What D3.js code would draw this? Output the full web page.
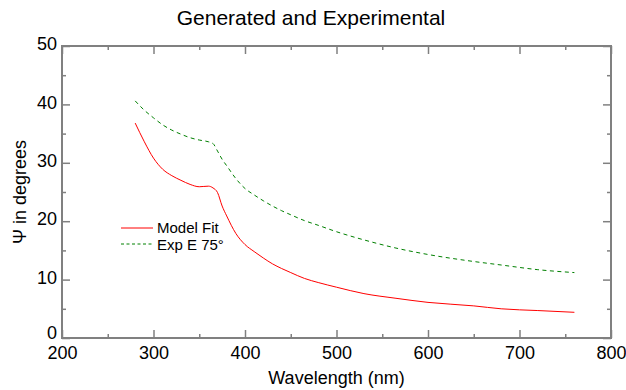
<!DOCTYPE html>
<html>
<head>
<meta charset="utf-8">
<script src="https://cdn.jsdelivr.net/npm/d3@7"></script>
<style>
  body { margin: 0; background: white; }
  text { font-family: "Liberation Sans", Arial, sans-serif; fill: black; }
</style>
</head>
<body>
<div id="chart"></div>
<script>
// wavelength (nm)
const wavelengths = [280, 290, 300, 310, 320, 330, 340, 350, 360, 365, 370, 375, 380, 390, 400,
    410, 420, 430, 440, 450, 465, 480, 500, 530, 565, 600, 650, 680, 720, 760];

// Model Fit (red)
const modelFit = [36.8, 33.6, 30.8, 28.9, 27.8, 27.0, 26.3, 25.9, 26.0, 25.7, 24.9, 22.6, 20.9, 17.9, 16.0,
    14.8, 13.7, 12.7, 11.9, 11.2, 10.2, 9.5, 8.7, 7.6, 6.8, 6.1, 5.5, 5.0, 4.7, 4.4];

// Exp E 75 (green dashed)
const expE75 = [40.6, 39.0, 37.7, 36.5, 35.6, 34.9, 34.3, 33.9, 33.6, 33.3, 32.0, 30.6, 29.5, 27.3, 25.6,
    24.5, 23.5, 22.6, 21.8, 21.1, 20.1, 19.3, 18.2, 16.8, 15.4, 14.3, 13.1, 12.5, 11.7, 11.2];

const xMajor = [200, 300, 400, 500, 600, 700, 800];
const xMinor = [250, 350, 450, 550, 650, 750];
const yMajor = [0, 10, 20, 30, 40, 50];
const yMinor = [5, 15, 25, 35, 45];

const seriesNames = ["Model Fit", "Exp E 75°"];

const width = 626;
const height = 390;
const margin = { top: 46, right: 15, bottom: 52, left: 62 };

const svg = d3.select("#chart")
    .append("svg")
    .attr("width", width)
    .attr("height", height);

const xScale = d3.scaleLinear()
    .domain([200, 800])
    .range([margin.left, width - margin.right]);

const yScale = d3.scaleLinear()
    .domain([0, 50])
    .range([height - margin.bottom, margin.top]);

const axisColor = "#808080";

//helper to style an axis group
function styleAxis(g) {
    g.select(".domain").remove();
    g.selectAll(".tick line").attr("stroke", axisColor).attr("stroke-width", 1.5);
    g.selectAll("text")
        .style("font-size", "18px")
        .style("font-family", "'Liberation Sans', Arial, sans-serif")
        .attr("fill", "black");
}

//bottom axis, ticks pointing inward
svg.append("g")
    .attr("transform", "translate(0," + yScale(0) + ")")
    .call(d3.axisBottom(xScale).tickValues(xMajor).tickSize(-8).tickPadding(8))
    .call(styleAxis);
svg.append("g")
    .attr("transform", "translate(0," + yScale(0) + ")")
    .call(d3.axisBottom(xScale).tickValues(xMinor).tickSize(-4).tickFormat(""))
    .call(styleAxis);

//top axis, no labels
svg.append("g")
    .attr("transform", "translate(0," + yScale(50) + ")")
    .call(d3.axisTop(xScale).tickValues(xMajor).tickSize(-8).tickFormat(""))
    .call(styleAxis);
svg.append("g")
    .attr("transform", "translate(0," + yScale(50) + ")")
    .call(d3.axisTop(xScale).tickValues(xMinor).tickSize(-4).tickFormat(""))
    .call(styleAxis);

//left axis, labels sit slightly above the tick, 0 sits on the axis
svg.append("g")
    .attr("transform", "translate(" + xScale(200) + ",0)")
    .call(d3.axisLeft(yScale).tickValues(yMajor).tickSize(-8).tickPadding(5))
    .call(styleAxis)
    .selectAll(".tick text")
    .attr("dy", function(d) { return d === 0 ? "0em" : "0.21em"; });
svg.append("g")
    .attr("transform", "translate(" + xScale(200) + ",0)")
    .call(d3.axisLeft(yScale).tickValues(yMinor).tickSize(-4).tickFormat(""))
    .call(styleAxis);

//right axis
svg.append("g")
    .attr("transform", "translate(" + xScale(800) + ",0)")
    .call(d3.axisRight(yScale).tickValues(yMajor).tickSize(-8).tickFormat(""))
    .call(styleAxis);
svg.append("g")
    .attr("transform", "translate(" + xScale(800) + ",0)")
    .call(d3.axisRight(yScale).tickValues(yMinor).tickSize(-4).tickFormat(""))
    .call(styleAxis);

//frame
svg.append("rect")
    .attr("x", xScale(200))
    .attr("y", yScale(50))
    .attr("width", xScale(800) - xScale(200))
    .attr("height", yScale(0) - yScale(50))
    .attr("fill", "none")
    .attr("stroke", axisColor)
    .attr("stroke-width", 2);

//lines
const line = d3.line()
    .x(function(d) { return xScale(d[0]); })
    .y(function(d) { return yScale(d[1]); })
    .curve(d3.curveMonotoneX);

svg.append("path")
    .datum(wavelengths.map(function(w, i) { return [w, modelFit[i]]; }))
    .attr("fill", "none")
    .attr("stroke", "#ff0000")
    .attr("stroke-width", 1)
    .attr("d", line);

svg.append("path")
    .datum(wavelengths.map(function(w, i) { return [w, expE75[i]]; }))
    .attr("fill", "none")
    .attr("stroke", "#008000")
    .attr("stroke-width", 1)
    .attr("stroke-dasharray", "4,3.5")
    .attr("d", line);

//legend
const legend = svg.append("g").attr("transform", "translate(121,228)");

legend.append("line")
    .attr("x1", 0).attr("x2", 32)
    .attr("y1", 0).attr("y2", 0)
    .attr("stroke", "#ff0000")
    .attr("stroke-width", 1);
legend.append("text")
    .attr("x", 36).attr("y", 4.5)
    .style("font-size", "15px")
    .text(seriesNames[0]);

legend.append("line")
    .attr("x1", 0).attr("x2", 32)
    .attr("y1", 16).attr("y2", 16)
    .attr("stroke", "#008000")
    .attr("stroke-width", 1)
    .attr("stroke-dasharray", "3,2.5");
legend.append("text")
    .attr("x", 36).attr("y", 21.5)
    .style("font-size", "15px")
    .text(seriesNames[1]);

//title
svg.append("text")
    .attr("x", 311)
    .attr("y", 25)
    .attr("text-anchor", "middle")
    .style("font-size", "21px")
    .text("Generated and Experimental");

//x axis label
svg.append("text")
    .attr("x", (xScale(200) + xScale(800)) / 2)
    .attr("y", 384)
    .attr("text-anchor", "middle")
    .style("font-size", "18px")
    .text("Wavelength (nm)");

//y axis label
svg.append("text")
    .attr("transform", "translate(26," + ((yScale(0) + yScale(50)) / 2) + ") rotate(-90)")
    .attr("text-anchor", "middle")
    .style("font-size", "18px")
    .text("Ψ in degrees");
</script>
</body>
</html>
